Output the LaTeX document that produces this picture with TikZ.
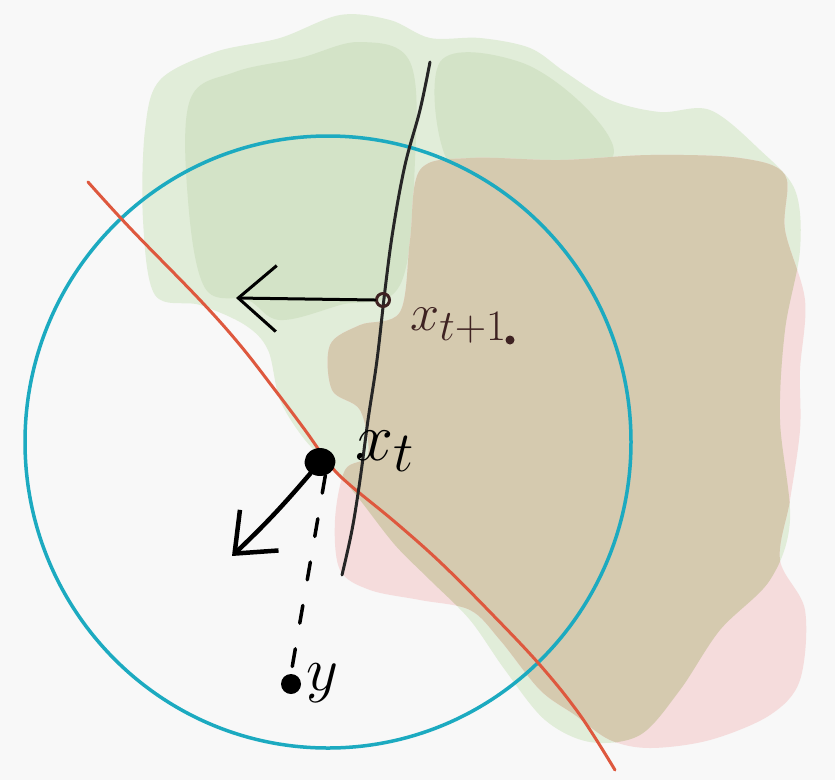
\documentclass[tikz,border=0pt]{standalone}
\usetikzlibrary{arrows.meta}
\definecolor{bgc}{RGB}{248,248,248}
\definecolor{greenL}{RGB}{225,237,217}
\definecolor{greenD}{RGB}{211,227,199}
\definecolor{pinkC}{RGB}{245,220,220}
\definecolor{tanC}{RGB}{213,202,175}
\definecolor{cyanC}{RGB}{28,170,192}
\definecolor{redC}{RGB}{222,88,62}
\definecolor{brownC}{RGB}{62,34,34}
\tikzset{
  greenshape/.style={insert path={plot[smooth cycle,tension=0.55] coordinates {
    (160,80) (215,52) (280,38) (340,15) (390,20) (430,38) (480,38) (530,48)
    (565,72) (610,100) (660,112) (710,110) (760,150) (795,190) (800,250)
    (785,330) (780,420) (790,520) (770,580) (720,630) (680,690) (640,735)
    (590,742) (545,720) (505,670) (470,620) (430,580) (395,545) (360,500)
    (335,470) (305,440) (280,400) (268,350) (245,325) (200,305) (155,295)
    (143,220) (145,130)}}},
  pinkshape/.style={insert path={plot[smooth cycle,tension=0.55] coordinates {
    (420,170) (470,158) (560,160) (650,155) (740,158) (785,175) (785,230)
    (805,300) (800,370) (800,430) (790,500) (780,560) (805,610) (800,680)
    (770,715) (710,740) (650,748) (610,740) (575,715) (540,690) (500,640)
    (470,610) (420,600) (370,590) (340,570) (335,520) (345,470) (368,455)
    (360,410) (332,390) (330,345) (360,325) (400,312) (410,240)}}},
  pen/.style={line width=3pt,line cap=round,line join=round},
  barb/.style={-{Straight Barb[length=38pt,width=66pt,line width=3pt]}},
  dotfill/.style={circle,fill=black,inner sep=0pt},
  lbl/.style={inner sep=0pt,anchor=base west,font=\Huge}
}
\begin{document}
\begin{tikzpicture}[x=1pt,y=-1pt]
\fill[bgc] (0,0) rectangle (835,780);
\useasboundingbox (0,0) rectangle (835,780);
% regions
\path[fill=greenL,greenshape];
\begin{scope}
  \clip[greenshape];
  \fill[greenD] plot[smooth cycle,tension=0.6] coordinates {(190,100) (235,72) (300,58) (360,42) (410,62) (415,160) (400,285) (340,305) (280,320) (248,300) (205,288) (188,200)};
  \fill[greenD] plot[smooth cycle,tension=0.6] coordinates {(440,62) (520,62) (590,112) (610,160) (520,170) (450,165)};
\end{scope}
\path[fill=pinkC,pinkshape];
\begin{scope}
  \clip[pinkshape];
  \path[fill=tanC,greenshape];
\end{scope}
% trust-region circle
\draw[cyanC,line width=3.5pt] (328,442) ellipse [x radius=303, y radius=306];
% red boundary
\draw[redC,pen] plot[smooth,tension=0.6] coordinates {(88,182) (130,228) (200,300) (240,345) (275,390) (305,430) (330,465) (350,485) (395,522) (440,562) (490,612) (540,665) (580,715) (615,770)};
% black curve
\draw[black!85,pen] plot[smooth,tension=0.6] coordinates {(430,62) (420,110) (405,165) (393,230) (385,290) (377,360) (368,420) (360,480) (352,530) (342,575)};
% points
\node[circle,draw=brownC,line width=3pt,minimum size=13pt,inner sep=0pt] (xn) at (383,300) {};
\node[dotfill,minimum size=9pt,fill=brownC] (star) at (510,340) {};
\node[dotfill,minimum size=28pt,xscale=1.1,rotate=20] (xt) at (320,462) {};
\node[dotfill,minimum size=20pt] (yp) at (291,684) {};
\coordinate (lefttip) at (236,298);
\coordinate (gradtip) at (232,556);
% arrows
\draw[pen,barb] (xn.west) -- (lefttip);
\draw[pen,line width=4.5pt,-{Straight Barb[length=34pt,width=56pt,line width=4.5pt]}] (xt) to[bend left=3] (gradtip);
\draw[pen,line width=3.5pt,dash pattern=on 18pt off 26pt] (xt.south) -- (yp.north);
% labels
\node[lbl,text=brownC,scale=2.1] (lxn) at (410,330) {$x_{t+1}$};
\node[lbl,scale=2.75] (lxt) at (355,460) {$x_t$};
\node[lbl,scale=2.5] (ly) at (306,690) {$y$};
\end{tikzpicture}
\end{document}
